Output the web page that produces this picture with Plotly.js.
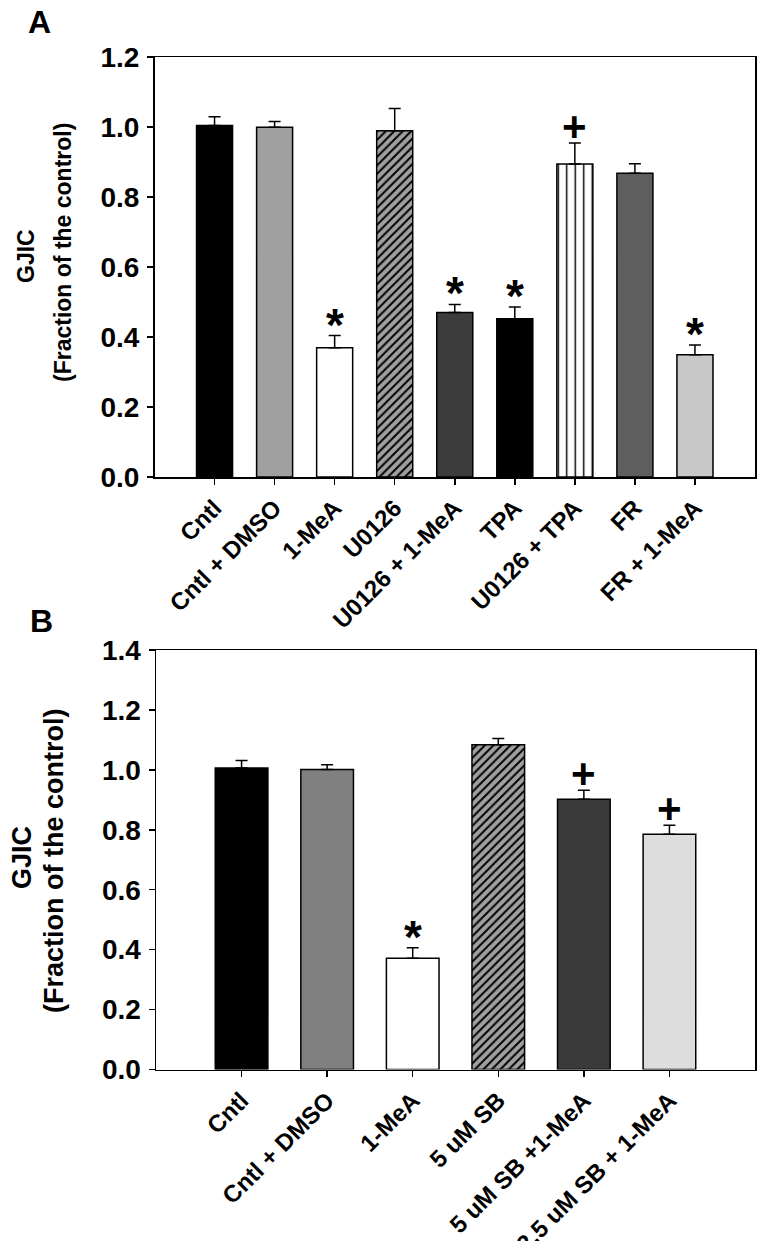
<!DOCTYPE html>
<html>
<head>
<meta charset="utf-8">
<script src="https://cdn.plot.ly/plotly-3.0.1.min.js"></script>
<style>
  body { margin: 0; background: #fff; }
  #myDiv { width: 764px; height: 1241px; }
</style>
</head>
<body>
<div id="myDiv"></div>
<script>
// panel A
const catsA = ['Cntl', 'Cntl + DMSO', '1-MeA', 'U0126', 'U0126 + 1-MeA', 'TPA', 'U0126 + TPA', 'FR', 'FR + 1-MeA'];
const valsA = [1.004, 0.999, 0.369, 0.989, 0.470, 0.452, 0.894, 0.868, 0.349];
const errA = [0.025, 0.017, 0.035, 0.064, 0.023, 0.034, 0.060, 0.027, 0.028];
const sigA = ['', '', '*', '', '*', '*', '+', '', '*'];

// panel B
const catsB = ['Cntl', 'Cntl + DMSO', '1-MeA', '5 uM SB', '5 uM SB +1-MeA', '2.5 uM SB + 1-MeA'];
const valsB = [1.006, 1.001, 0.371, 1.084, 0.902, 0.785];
const errB = [0.025, 0.016, 0.035, 0.021, 0.030, 0.030];
const sigB = ['', '', '*', '', '+', '+'];

// bar looks
const fillA = ['#000000', '#a0a0a0', '#ffffff', '#a0a0a0', '#3c3c3c', '#000000', '#ffffff', '#5e5e5e', '#c8c8c8'];
const shapeA = ['', '', '', '/', '', '', '|', '', ''];
const fillB = ['#000000', '#808080', '#ffffff', '#a0a0a0', '#3a3a3a', '#dcdddc'];
const shapeB = ['', '', '', '/', '', ''];

const W = 764, H = 1241;
const FONT = 'Liberation Sans, Arial, sans-serif';

// one trace per bar so each one can carry its own fill pattern
function barTraces(cats, vals, errs, fills, shapes, xa, ya, width) {
    return cats.map((c, i) => {
        let marker = { color: fills[i], line: { color: '#000', width: 1.5 } };
        if (shapes[i]) {
            marker.pattern = {
                shape: shapes[i],
                fillmode: 'replace',
                bgcolor: fills[i],
                fgcolor: '#000000',
                fgopacity: 1,
                size: shapes[i] === '|' ? 8.5 : 6,
                solidity: shapes[i] === '|' ? 0.17 : 0.33
            };
        }
        return {
            type: 'bar',
            x: [c],
            y: [vals[i]],
            xaxis: xa,
            yaxis: ya,
            width: width,
            marker: marker,
            error_y: {
                type: 'data',
                symmetric: false,
                array: [errs[i]],
                arrayminus: [0],
                color: '#000',
                thickness: 1.5,
                width: 6
            },
            showlegend: false
        };
    });
}

function marks(cats, vals, errs, sigs, xref, yref) {
    let out = [];
    cats.forEach((c, i) => {
        if (!sigs[i]) return;
        let star = sigs[i] === '*';
        out.push({
            x: c, y: vals[i] + errs[i],
            xref: xref, yref: yref,
            text: sigs[i],
            showarrow: false,
            yanchor: 'bottom',
            yshift: star ? -17 : -9,
            font: { family: FONT, size: star ? 46 : 42, color: '#000', weight: 'bold' }
        });
    });
    return out;
}

function xAxis(domain, anchor, cats) {
    return {
        domain: domain,
        anchor: anchor,
        type: 'category',
        categoryorder: 'array',
        categoryarray: cats,
        range: [-1, cats.length],
        showline: true, mirror: true, linecolor: '#000', linewidth: 1.5,
        ticks: 'outside', ticklen: 6, tickwidth: 1.5, tickcolor: '#000',
        tickangle: -45,
        tickfont: { family: FONT, size: 24, color: '#000', weight: 'bold' },
        showgrid: false, zeroline: false, fixedrange: true
    };
}

function yAxis(domain, anchor, top) {
    return {
        domain: domain,
        anchor: anchor,
        range: [0, top],
        dtick: 0.2,
        tickformat: '.1f',
        showline: true, mirror: true, linecolor: '#000', linewidth: 1.5,
        ticks: 'outside', ticklen: 6, tickwidth: 1.5, tickcolor: '#000',
        ticklabelstandoff: 2,
        tickfont: { family: FONT, size: 28, color: '#000', weight: 'bold' },
        showgrid: false, zeroline: false, fixedrange: true
    };
}

const traces = barTraces(catsA, valsA, errA, fillA, shapeA, 'x', 'y', 0.6)
    .concat(barTraces(catsB, valsB, errB, fillB, shapeB, 'x2', 'y2', 0.615));

function label(text, x, y, size, angle) {
    return { text: text, xref: 'paper', yref: 'paper', x: x / W, y: 1 - y / H, showarrow: false,
             textangle: angle || 0, xanchor: 'center', yanchor: 'middle',
             font: { family: FONT, size: size, color: '#000', weight: 'bold' } };
}

const layout = {
    width: W,
    height: H,
    margin: { l: 0, r: 0, t: 0, b: 0 },
    barmode: 'overlay',
    paper_bgcolor: '#fff',
    plot_bgcolor: '#fff',
    xaxis: xAxis([154.5 / W, 755 / W], 'y', catsA),
    yaxis: yAxis([1 - 477 / H, 1 - 57 / H], 'x', 1.2),
    xaxis2: xAxis([156 / W, 755 / W], 'y2', catsB),
    yaxis2: yAxis([1 - 1069.5 / H, 1 - 650 / H], 'x2', 1.4),
    annotations: [
        label('A', 39, 22, 32),
        label('B', 41, 621, 32),
        label('GJIC', 26, 256, 23, -90),
        label('(Fraction of the control)', 63, 253, 23, -90),
        label('GJIC', 22, 858, 27, -90),
        label('(Fraction of the control)', 54, 861, 27, -90)
    ].concat(marks(catsA, valsA, errA, sigA, 'x', 'y'))
     .concat(marks(catsB, valsB, errB, sigB, 'x2', 'y2'))
};

Plotly.newPlot('myDiv', traces, layout, { displayModeBar: false, staticPlot: true });
</script>
</body>
</html>
